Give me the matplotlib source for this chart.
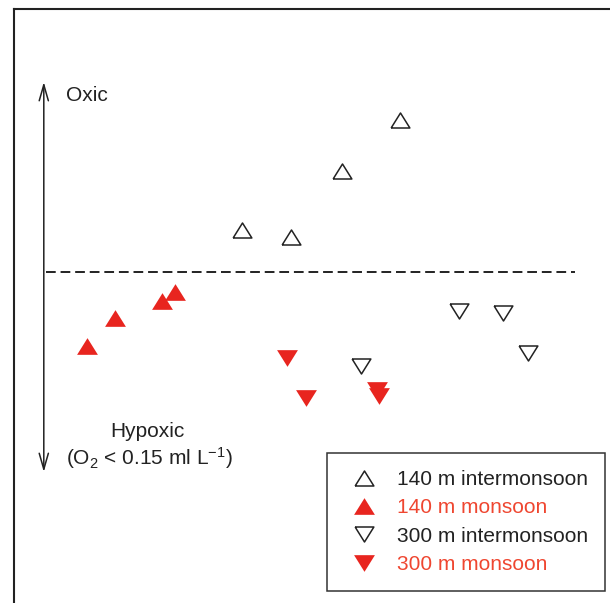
import matplotlib
matplotlib.use("Agg")
import matplotlib.pyplot as plt

plt.rcParams["font.family"] = ["Liberation Sans", "DejaVu Sans"]
plt.rcParams["mathtext.fontset"] = "custom"
plt.rcParams["mathtext.rm"] = "Liberation Sans"
plt.rcParams["mathtext.it"] = "Liberation Sans:italic"

# === Dados (unidades arbitrárias; y = 0 é o limite oxic/hypoxic) ===
x_140_inter = [3.82, 4.65, 5.50, 6.48]
y_140_inter = [0.84, 0.69, 2.01, 3.04]

x_140_mon = [1.22, 1.69, 2.49, 2.70]
y_140_mon = [-1.49, -0.92, -0.59, -0.41]

x_300_inter = [7.47, 8.20, 8.63, 5.82]
y_300_inter = [-0.79, -0.83, -1.63, -1.89]

x_300_mon = [4.58, 4.90, 6.09, 6.12]
y_300_mon = [-1.73, -2.53, -2.36, -2.48]

labels = ["140 m intermonsoon", "140 m monsoon", "300 m intermonsoon", "300 m monsoon"]

red = "#e8251f"
red_text = "#ef4630"

# triângulos um pouco achatados
tri_up = [(-1, -0.8), (1, -0.8), (0, 0.8), (-1, -0.8)]
tri_down = [(-1, 0.8), (1, 0.8), (0, -0.8), (-1, 0.8)]

fig = plt.figure(figsize=(6.10, 6.03), dpi=100)
ax = fig.add_axes([14 / 610, 0, 596 / 610, (603 - 9) / 603])
ax.set_xlim(0, 10)
ax.set_ylim(-6.62, 5.26)
ax.set_xticks([])
ax.set_yticks([])
for lado in ["right", "bottom"]:
    ax.spines[lado].set_visible(False)
for lado in ["left", "top"]:
    ax.spines[lado].set_linewidth(1.5)
    ax.spines[lado].set_color("#222222")

# linha tracejada do limite
ax.plot([0.54, 9.41], [0, 0], color="#222222", lw=1.4, dashes=(5, 2.5))

# seta oxic / hypoxic
ax.annotate("", xy=(0.50, 3.80), xytext=(0.50, -4.0),
            arrowprops=dict(arrowstyle="<->,head_length=1.15,head_width=0.33",
                            color="#222222", lw=1.1, shrinkA=0, shrinkB=0))
ax.text(0.87, 3.52, "Oxic", fontsize=15, ha="left", va="center", color="#222222")
ax.text(2.23, -3.20, "Hypoxic", fontsize=15, ha="center", va="center", color="#222222")
ax.text(2.27, -3.72, r"(O$_2$ < 0.15 ml L$^{-1}$)", fontsize=15, ha="center",
        va="center", color="#222222")

h1, = ax.plot(x_140_inter, y_140_inter, linestyle="none", marker=tri_up, ms=13.5,
              mfc="white", mec="#222222", mew=1.1)
h2, = ax.plot(x_140_mon, y_140_mon, linestyle="none", marker=tri_up, ms=15,
              mfc=red, mec="none")
h3, = ax.plot(x_300_inter, y_300_inter, linestyle="none", marker=tri_down, ms=13.5,
              mfc="white", mec="#222222", mew=1.1)
h4, = ax.plot(x_300_mon, y_300_mon, linestyle="none", marker=tri_down, ms=15,
              mfc=red, mec="none")

leg = ax.legend([h1, h2, h3, h4], labels, loc="upper left",
                bbox_to_anchor=(326.7 / 610, 1 - 453.3 / 603),
                bbox_transform=fig.transFigure, borderaxespad=0,
                prop={"size": 15}, borderpad=0.8, handlelength=2.0,
                handletextpad=0.58, labelspacing=0.45, fancybox=False,
                framealpha=1, edgecolor="#333333",
                labelcolor=["#222222", red_text, "#222222", red_text])
leg.get_frame().set_linewidth(1.1)

plt.savefig("out.png", dpi=100)
